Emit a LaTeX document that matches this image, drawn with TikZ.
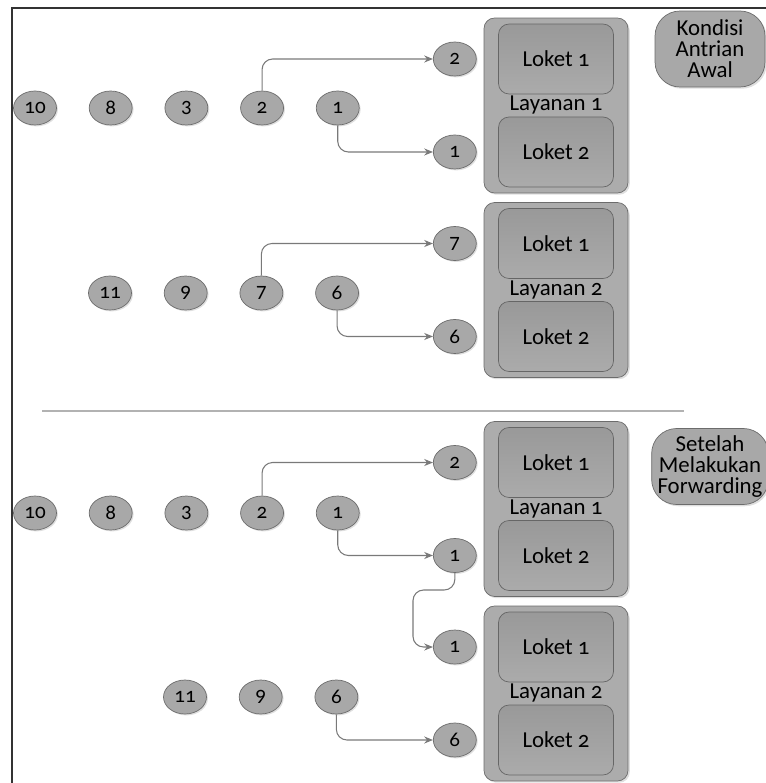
\documentclass[tikz,border=0pt]{standalone}
\usepackage{fontspec}
\setmainfont{Carlito}[Numbers=OldStyle]
\usetikzlibrary{arrows.meta, positioning, shapes.geometric, shadows}

\begin{document}
\begin{tikzpicture}[
      x=0.02cm, y=-0.02cm,
      node distance = 0.64cm,
      queue/.style  = {draw=gray!85!black, ellipse, fill=gray!68,
                       minimum width=0.86cm, minimum height=0.68cm, inner sep=0pt,
                       font=\fontsize{12}{12}\selectfont,
                       drop shadow={opacity=0.25, shadow xshift=0.8pt, shadow yshift=-0.8pt}},
      layanan/.style= {draw=gray!85!black, rounded corners=6pt, fill=gray!65,
                       minimum width=2.88cm, minimum height=3.5cm,
                       drop shadow={opacity=0.25, shadow xshift=1pt, shadow yshift=-1pt}},
      loket/.style  = {draw=gray!80!black, rounded corners=6pt,
                       top color=gray!80, bottom color=gray!66,
                       minimum width=2.3cm, minimum height=1.4cm,
                       font=\fontsize{13}{12}\selectfont},
      title/.style  = {inner sep=1pt, font=\fontsize{13}{12}\selectfont},
      note/.style   = {draw=gray!85!black, rounded corners=0.5cm, fill=gray!68,
                       minimum width=2.2cm, minimum height=1.52cm, align=center,
                       font=\fontsize{13}{12}\selectfont,
                       drop shadow={opacity=0.25, shadow xshift=1pt, shadow yshift=-1pt}},
      link/.style   = {-{Stealth[length=5pt,width=4pt]}, draw=gray!95!black,
                       line width=0.6pt, rounded corners=6pt},
      frame/.style  = {draw=black!80, line width=1.2pt},
      sep/.style    = {draw=gray!60, line width=1.2pt},
    ]
    \useasboundingbox (0,0) rectangle (766,783);
    \draw[frame] (12,783) -- (12,8) -- (766,8);
    \draw[sep] (42,411) -- (684,411);

    % kondisi antrian awal
    \node[note] (awal) at (710,49) {Kondisi\\Antrian\\Awal};

    \node[layanan] (lay1a) at (556,105.5) {};
    \node[loket, below=0.12cm of lay1a.north] (lay1a-k1) {Loket 1};
    \node[loket, above=0.12cm of lay1a.south] (lay1a-k2) {Loket 2};
    \node[title] (lay1a-t) at (lay1a) {Layanan 1};
    \node[queue, left=0.43cm of lay1a-k1] (sa2) {2};
    \node[queue, left=0.43cm of lay1a-k2] (sa1) {1};

    \node[layanan] (lay2a) at (556,290) {};
    \node[loket, below=0.12cm of lay2a.north] (lay2a-k1) {Loket 1};
    \node[loket, above=0.12cm of lay2a.south] (lay2a-k2) {Loket 2};
    \node[title] (lay2a-t) at (lay2a) {Layanan 2};
    \node[queue, left=0.43cm of lay2a-k1] (sa7) {7};
    \node[queue, left=0.43cm of lay2a-k2] (sa6) {6};

    \node[queue] (a10) at (35,108) {10};
    \node[queue, right=of a10] (a8) {8};
    \node[queue, right=of a8]  (a3) {3};
    \node[queue, right=of a3]  (a2) {2};
    \node[queue, right=of a2]  (a1) {1};

    \node[queue] (a11) at (110,293) {11};
    \node[queue, right=of a11] (a9) {9};
    \node[queue, right=of a9]  (a7) {7};
    \node[queue, right=of a7]  (a6) {6};

    \draw[link] (a2) |- (sa2);
    \draw[link] (a1) |- (sa1);
    \draw[link] (a7) |- (sa7);
    \draw[link] (a6) |- (sa6);

    % setelah forwarding
    \node[note] (fwdnote) at (710,466.5) {Setelah\\Melakukan\\Forwarding};

    \node[layanan] (lay1f) at (556,509) {};
    \node[loket, below=0.12cm of lay1f.north] (lay1f-k1) {Loket 1};
    \node[loket, above=0.12cm of lay1f.south] (lay1f-k2) {Loket 2};
    \node[title] (lay1f-t) at (lay1f) {Layanan 1};
    \node[queue, left=0.43cm of lay1f-k1] (sf2) {2};
    \node[queue, left=0.43cm of lay1f-k2] (sf1) {1};

    \node[layanan] (lay2f) at (556,693.5) {};
    \node[loket, below=0.12cm of lay2f.north] (lay2f-k1) {Loket 1};
    \node[loket, above=0.12cm of lay2f.south] (lay2f-k2) {Loket 2};
    \node[title] (lay2f-t) at (lay2f) {Layanan 2};
    \node[queue, left=0.43cm of lay2f-k1] (sf1b) {1};
    \node[queue, left=0.43cm of lay2f-k2] (sf6) {6};

    \node[queue] (f10) at (35,513) {10};
    \node[queue, right=of f10] (f8) {8};
    \node[queue, right=of f8]  (f3) {3};
    \node[queue, right=of f3]  (f2) {2};
    \node[queue, right=of f2]  (f1) {1};

    \node[queue] (f11) at (185,697) {11};
    \node[queue, right=of f11] (f9) {9};
    \node[queue, right=of f9]  (f6) {6};

    \coordinate (fwd) at (413,590);
    \draw[link] (f2) |- (sf2);
    \draw[link] (f1) |- (sf1);
    \draw[link] (sf1) |- (fwd) |- (sf1b);
    \draw[link] (f6) |- (sf6);
  \end{tikzpicture}
\end{document}
